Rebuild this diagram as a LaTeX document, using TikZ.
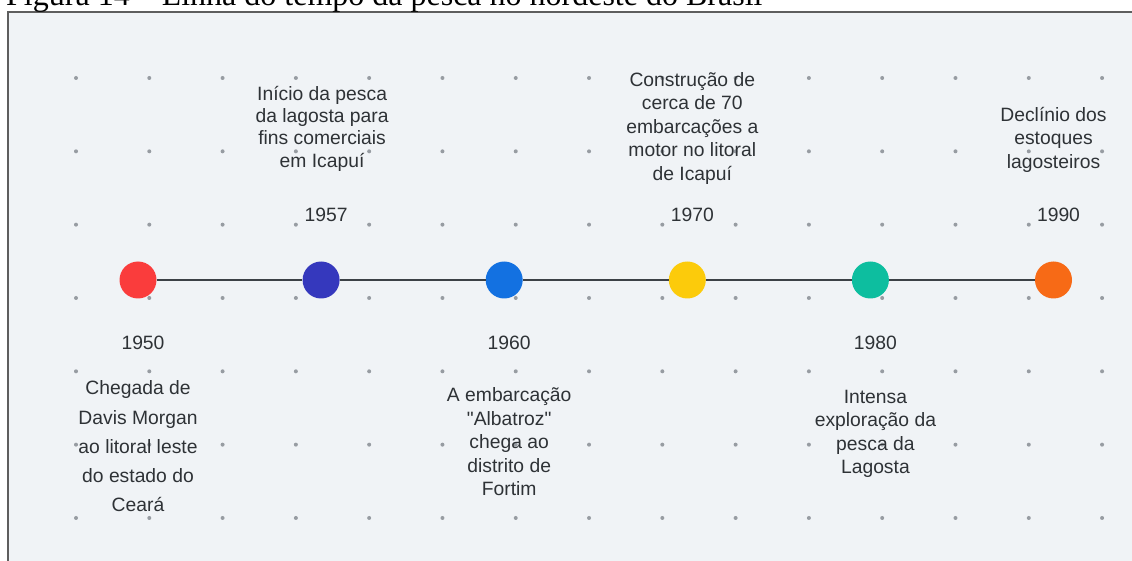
\documentclass[tikz,border=0pt]{standalone}
\usepackage{fontspec}
\setmainfont{Liberation Sans}[Ligatures=TeXOff]
\newfontfamily\capfont{Liberation Serif}
\usetikzlibrary{positioning}
\definecolor{lineDark}{HTML}{3C4146}
\definecolor{textDark}{HTML}{2E3236}
\definecolor{bgGray}{HTML}{F0F3F6}
\definecolor{dotGray}{HTML}{979CA2}
\definecolor{frameGray}{HTML}{5E5E5E}
\definecolor{evRed}{HTML}{FA3C3C}
\definecolor{evIndigo}{HTML}{3538BD}
\definecolor{evBlue}{HTML}{1371E1}
\definecolor{evYellow}{HTML}{FCCB0B}
\definecolor{evTeal}{HTML}{0DBE9F}
\definecolor{evOrange}{HTML}{F76A16}
\tikzset{
  event/.style={circle, minimum size=37pt, inner sep=0pt, draw=none},
  yearlbl/.style={font=\fontsize{19.3}{23.5}\selectfont, text=textDark, inner sep=0pt},
  desc/.style={font=\fontsize{19.3}{23.5}\selectfont, text=textDark, align=center, inner sep=0pt},
  timeline/.style={lineDark, line width=2.8pt},
}

\begin{document}
\begin{tikzpicture}[x=1pt, y=1pt]
  \useasboundingbox (0,0) rectangle (1132,560);
  % frame and caption
  \draw[frameGray, fill=bgGray, line width=1.2pt] (8,-10) rectangle (1145,548);
  \node[anchor=base west, inner sep=0pt, font=\capfont\fontsize{32}{36}\selectfont] (cap) at (6,554)
    {Figura 14 – Linha do tempo da pesca no nordeste do Brasil};
  % dotted grid
  \foreach \i in {0,...,14}
    \foreach \j in {0,...,6}
      \fill[dotGray] (76+73.29*\i, 482-73.33*\j) circle (2);
  % events on the line
  \foreach \k/\c in {1/evRed, 2/evIndigo, 3/evBlue, 4/evYellow, 5/evTeal, 6/evOrange}
    \node[event, fill=\c] (e\k) at (138+183.1*\k-183.1, 280) {};
  \foreach \a/\b in {1/2, 2/3, 3/4, 4/5, 5/6}
    \draw[timeline] (e\a) -- (e\b);

  % years
  \node[yearlbl, below=37pt of e1, xshift=5pt] (y50) {1950};
  \node[yearlbl, above=39pt of e2, xshift=5pt] (y57) {1957};
  \node[yearlbl, below=37pt of e3, xshift=5pt] (y60) {1960};
  \node[yearlbl, above=39pt of e4, xshift=5pt] (y70) {1970};
  \node[yearlbl, below=37pt of e5, xshift=5pt] (y80) {1980};
  \node[yearlbl, above=39pt of e6, xshift=5pt] (y90) {1990};

  % descriptions
  \node[desc, font=\fontsize{19.3}{29.2}\selectfont, below=31pt of y50, xshift=-5pt] (d50)
    {Chegada de\\Davis Morgan\\ao litoral leste\\do estado do\\Ceará};
  \node[desc, font=\fontsize{19.3}{22.3}\selectfont, above=37pt of y57, xshift=-4pt] (d57)
    {Início da pesca\\da lagosta para\\fins comerciais\\em Icapuí};
  \node[desc, below=38pt of y60] (d60)
    {A embarcação\\"Albatroz"\\chega ao\\distrito de\\Fortim};
  \node[desc, above=24pt of y70] (d70)
    {Construção de\\cerca de 70\\embarcações a\\motor no litoral\\de Icapuí};
  \node[desc, below=40pt of y80] (d80)
    {Intensa\\exploração da\\pesca da\\Lagosta};
  \node[desc, above=36pt of y90, xshift=-5pt] (d90)
    {Declínio dos\\estoques\\lagosteiros};
\end{tikzpicture}
\end{document}
